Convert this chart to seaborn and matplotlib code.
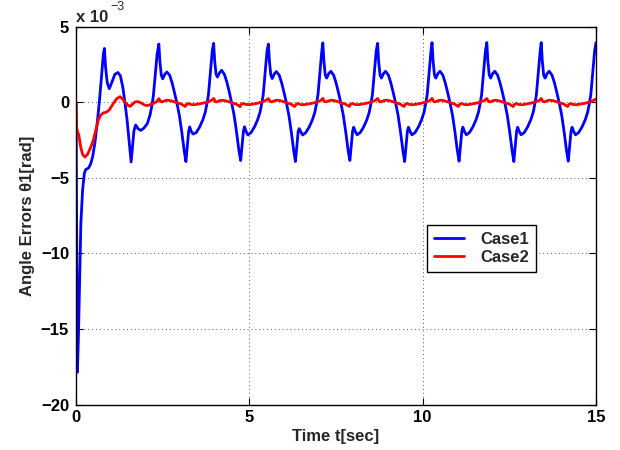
import matplotlib
matplotlib.use("Agg")
import matplotlib.pyplot as plt
import seaborn as sns

# ---------------------------------------------------------------
# Angle error theta1 (units of 1e-3 rad) vs time (sec)
# ---------------------------------------------------------------

# Case1: start-up transient and first cycle
t_case1_start = [0.00, 0.04, 0.07, 0.10, 0.14, 0.19, 0.24, 0.28, 0.36, 0.42,
                 0.48, 0.55, 0.62, 0.68, 0.74, 0.79, 0.82, 0.85, 0.90, 0.96,
                 1.03, 1.12, 1.21, 1.28, 1.35, 1.41, 1.47, 1.53, 1.59, 1.63,
                 1.67, 1.72, 1.79, 1.87, 1.96, 2.06, 2.14, 2.19, 2.23, 2.29,
                 2.34]
e_case1_start = [0.0, -17.85, -15.5, -12.4, -8.0, -5.8, -4.7, -4.45, -4.35, -4.1,
                 -3.6, -2.6, -1.2, 0.2, 1.8, 3.2, 3.56, 2.4, 1.3, 0.9,
                 1.3, 1.85, 1.97, 1.75, 1.0, 0.0, -1.1, -2.5, -3.95, -2.9,
                 -1.9, -1.5, -1.75, -1.86, -1.7, -1.4, -0.8, -0.2, 0.4, 1.9,
                 3.2]

# Case1: steady cycles
t_case1_cycles = [
    [2.39, 2.42, 2.46, 2.50, 2.56, 2.62, 2.70, 2.77, 2.84, 2.91, 2.98, 3.05, 3.12, 3.17,
     3.21, 3.25, 3.28, 3.33, 3.38, 3.47, 3.57, 3.66, 3.73, 3.78, 3.82, 3.88, 3.93],
    [3.97, 4.00, 4.04, 4.08, 4.14, 4.20, 4.28, 4.35, 4.42, 4.49, 4.56, 4.63, 4.70, 4.75,
     4.79, 4.83, 4.86, 4.91, 4.96, 5.05, 5.15, 5.24, 5.31, 5.36, 5.40, 5.46, 5.51],
    [5.55, 5.58, 5.62, 5.66, 5.72, 5.78, 5.86, 5.93, 6.00, 6.07, 6.14, 6.21, 6.28, 6.33,
     6.37, 6.41, 6.44, 6.49, 6.54, 6.63, 6.73, 6.82, 6.89, 6.94, 6.98, 7.04, 7.09],
    [7.12, 7.15, 7.19, 7.23, 7.29, 7.35, 7.43, 7.50, 7.57, 7.64, 7.71, 7.78, 7.85, 7.90,
     7.94, 7.98, 8.01, 8.06, 8.11, 8.20, 8.30, 8.39, 8.46, 8.51, 8.55, 8.61, 8.66],
    [8.70, 8.73, 8.77, 8.81, 8.87, 8.93, 9.01, 9.08, 9.15, 9.22, 9.29, 9.36, 9.43, 9.48,
     9.52, 9.56, 9.59, 9.64, 9.69, 9.78, 9.88, 9.97, 10.04, 10.09, 10.13, 10.19, 10.24],
    [10.27, 10.30, 10.34, 10.38, 10.44, 10.50, 10.58, 10.65, 10.72, 10.79, 10.86, 10.93, 11.00, 11.05,
     11.09, 11.13, 11.16, 11.21, 11.26, 11.35, 11.45, 11.54, 11.61, 11.66, 11.70, 11.76, 11.81],
    [11.85, 11.88, 11.92, 11.96, 12.02, 12.08, 12.16, 12.23, 12.30, 12.37, 12.44, 12.51, 12.58, 12.63,
     12.67, 12.71, 12.74, 12.79, 12.84, 12.93, 13.03, 13.12, 13.19, 13.24, 13.28, 13.34, 13.39],
    [13.42, 13.45, 13.49, 13.53, 13.59, 13.65, 13.73, 13.80, 13.87, 13.94, 14.01, 14.08, 14.15, 14.20,
     14.24, 14.28, 14.31, 14.36, 14.41, 14.50, 14.60, 14.69, 14.76, 14.81, 14.85, 14.91, 14.96],
    [15.00],
]
e_case1_cycles = [
    [3.85, 2.70, 1.80, 1.55, 1.85, 2.00, 1.80, 1.30, 0.65, -0.05, -0.85, -1.95, -3.20, -3.92,
     -2.90, -1.90, -1.63, -1.95, -2.10, -2.00, -1.62, -1.15, -0.65, -0.05, 0.50, 2.10, 3.40],
    [3.90, 2.75, 1.85, 1.67, 1.95, 2.12, 1.85, 1.35, 0.70, -0.05, -0.85, -1.95, -3.20, -3.85,
     -2.90, -1.90, -1.62, -1.95, -2.16, -2.00, -1.62, -1.15, -0.65, -0.05, 0.50, 2.10, 3.40],
    [3.85, 2.70, 1.80, 1.57, 1.88, 2.03, 1.80, 1.30, 0.65, -0.05, -0.85, -1.95, -3.20, -3.92,
     -2.90, -1.90, -1.74, -1.98, -2.16, -2.00, -1.62, -1.15, -0.65, -0.05, 0.50, 2.10, 3.40],
    [3.93, 2.75, 1.80, 1.60, 1.90, 2.05, 1.80, 1.30, 0.65, -0.05, -0.85, -1.95, -3.20, -3.85,
     -2.90, -1.90, -1.65, -1.95, -2.15, -2.00, -1.62, -1.15, -0.65, -0.05, 0.50, 2.10, 3.40],
    [3.90, 2.70, 1.80, 1.60, 1.90, 2.05, 1.80, 1.30, 0.65, -0.05, -0.85, -1.95, -3.20, -3.92,
     -2.90, -1.90, -1.65, -1.95, -2.15, -2.00, -1.62, -1.15, -0.65, -0.05, 0.50, 2.10, 3.40],
    [3.95, 2.75, 1.80, 1.60, 1.90, 2.05, 1.80, 1.30, 0.65, -0.05, -0.85, -1.95, -3.20, -3.90,
     -2.90, -1.90, -1.65, -1.95, -2.15, -2.00, -1.62, -1.15, -0.65, -0.05, 0.50, 2.10, 3.40],
    [3.95, 2.75, 1.80, 1.60, 1.90, 2.05, 1.80, 1.30, 0.65, -0.05, -0.85, -1.95, -3.20, -3.92,
     -2.90, -1.90, -1.65, -1.95, -2.15, -2.00, -1.62, -1.15, -0.65, -0.05, 0.50, 2.10, 3.40],
    [3.95, 2.75, 1.80, 1.60, 1.90, 2.05, 1.80, 1.30, 0.65, -0.05, -0.85, -1.95, -3.20, -3.90,
     -2.90, -1.90, -1.65, -1.95, -2.15, -2.00, -1.62, -1.15, -0.65, -0.05, 0.50, 2.10, 3.40],
    [3.95],
]

# Case2: start-up transient
t_case2_start = [0.00, 0.02, 0.05, 0.08, 0.13, 0.19, 0.26, 0.33, 0.42, 0.50,
                 0.57, 0.64, 0.71, 0.79, 0.88, 0.96, 1.03, 1.10, 1.18, 1.27,
                 1.35, 1.43, 1.50, 1.56, 1.62, 1.70, 1.78, 1.88, 1.98, 2.06,
                 2.15, 2.25, 2.33]
e_case2_start = [0.0, -1.7, -2.0, -2.15, -2.9, -3.45, -3.62, -3.45, -3.0, -2.5,
                 -1.85, -1.2, -0.85, -0.7, -0.65, -0.5, -0.25, 0.0, 0.25, 0.37,
                 0.2, -0.05, -0.2, -0.27, -0.15, 0.02, 0.05, -0.05, -0.18, -0.22,
                 -0.15, -0.05, 0.05]

# Case2: steady cycles
t_case2_cycles = [
    [2.39, 2.44, 2.49, 2.56, 2.64, 2.74, 2.84, 2.94, 3.04, 3.11, 3.15, 3.19, 3.24, 3.32, 3.42, 3.52, 3.64, 3.76, 3.86, 3.92],
    [3.97, 4.02, 4.07, 4.14, 4.22, 4.32, 4.42, 4.52, 4.62, 4.69, 4.73, 4.77, 4.82, 4.90, 5.00, 5.10, 5.22, 5.34, 5.44, 5.50],
    [5.55, 5.60, 5.65, 5.72, 5.80, 5.90, 6.00, 6.10, 6.20, 6.27, 6.31, 6.35, 6.40, 6.48, 6.58, 6.68, 6.80, 6.92, 7.02, 7.08],
    [7.12, 7.17, 7.22, 7.29, 7.37, 7.47, 7.57, 7.67, 7.77, 7.84, 7.88, 7.92, 7.97, 8.05, 8.15, 8.25, 8.37, 8.49, 8.59, 8.65],
    [8.70, 8.75, 8.80, 8.87, 8.95, 9.05, 9.15, 9.25, 9.35, 9.42, 9.46, 9.50, 9.55, 9.63, 9.73, 9.83, 9.95, 10.07, 10.17, 10.23],
    [10.27, 10.32, 10.37, 10.44, 10.52, 10.62, 10.72, 10.82, 10.92, 10.99, 11.03, 11.07, 11.12, 11.20, 11.30, 11.40, 11.52, 11.64, 11.74, 11.80],
    [11.85, 11.90, 11.95, 12.02, 12.10, 12.20, 12.30, 12.40, 12.50, 12.57, 12.61, 12.65, 12.70, 12.78, 12.88, 12.98, 13.10, 13.22, 13.32, 13.38],
    [13.42, 13.47, 13.52, 13.59, 13.67, 13.77, 13.87, 13.97, 14.07, 14.14, 14.18, 14.22, 14.27, 14.35, 14.45, 14.55, 14.67, 14.79, 14.89, 14.95],
    [15.00],
]
e_case2_cycles = [
    [0.24, 0.05, 0.03, 0.10, 0.14, 0.10, 0.03, -0.05, -0.12, -0.22, -0.28, -0.13, -0.08, -0.15, -0.16, -0.12, -0.07, 0.00, 0.08, 0.15],
    [0.25, 0.03, 0.03, 0.11, 0.13, 0.10, 0.03, -0.05, -0.12, -0.22, -0.29, -0.12, -0.08, -0.14, -0.16, -0.12, -0.07, 0.00, 0.08, 0.16],
    [0.24, 0.05, 0.03, 0.10, 0.14, 0.10, 0.03, -0.05, -0.12, -0.22, -0.28, -0.13, -0.08, -0.15, -0.16, -0.12, -0.07, 0.00, 0.08, 0.15],
    [0.26, 0.04, 0.03, 0.10, 0.14, 0.10, 0.03, -0.05, -0.12, -0.22, -0.27, -0.13, -0.08, -0.15, -0.16, -0.12, -0.07, 0.00, 0.08, 0.15],
    [0.25, 0.05, 0.03, 0.10, 0.14, 0.10, 0.03, -0.05, -0.12, -0.22, -0.28, -0.13, -0.08, -0.15, -0.16, -0.12, -0.07, 0.00, 0.08, 0.15],
    [0.26, 0.05, 0.03, 0.10, 0.14, 0.10, 0.03, -0.05, -0.12, -0.22, -0.28, -0.13, -0.08, -0.15, -0.16, -0.12, -0.07, 0.00, 0.08, 0.15],
    [0.25, 0.05, 0.03, 0.10, 0.14, 0.10, 0.03, -0.05, -0.12, -0.22, -0.28, -0.13, -0.08, -0.15, -0.16, -0.12, -0.07, 0.00, 0.08, 0.15],
    [0.25, 0.05, 0.03, 0.10, 0.14, 0.10, 0.03, -0.05, -0.12, -0.22, -0.28, -0.13, -0.08, -0.15, -0.16, -0.12, -0.07, 0.00, 0.08, 0.15],
    [0.22],
]

x_ticks = [0, 5, 10, 15]
y_ticks = [-20, -15, -10, -5, 0, 5]
series_names = ["Case1", "Case2"]
series_colors = ["#0000ff", "#ff0000"]


def join(first, rest):
    out = list(first)
    for block in rest:
        out.extend(block)
    return out


t1 = join(t_case1_start, t_case1_cycles)
e1 = join(e_case1_start, e_case1_cycles)
t2 = join(t_case2_start, t_case2_cycles)
e2 = join(e_case2_start, e_case2_cycles)

sns.set_theme(style="ticks")
plt.rcParams["font.family"] = ["Liberation Sans", "DejaVu Sans"]
plt.rcParams["font.weight"] = "bold"
plt.rcParams["axes.labelweight"] = "bold"

fig = plt.figure(figsize=(6.2, 4.5), dpi=100)
ax = fig.add_axes([0.1226, 0.1007, 0.8387, 0.8400])

for tt, ee, name, col in zip([t1, t2], [e1, e2], series_names, series_colors):
    sns.lineplot(x=tt, y=ee, ax=ax, color=col, linewidth=2.0, label=name,
                 estimator=None, sort=False)

ax.set_xlim(0, 15)
ax.set_ylim(-20, 5)
ax.set_xticks(x_ticks)
ax.set_yticks(y_ticks)
ax.grid(True, linestyle=(0, (1, 3)), color="0.35", linewidth=0.7)
ax.tick_params(direction="in", top=True, right=True, length=5, width=0.8,
               labelsize=12, colors="black")
ax.tick_params(axis="y", pad=5)
ax.tick_params(axis="x", pad=4)
for s in ax.spines.values():
    s.set_visible(True)
    s.set_color("black")
    s.set_linewidth(1.0)

ax.set_xlabel("Time t[sec]", fontsize=12, fontweight="bold", labelpad=3)
ax.set_ylabel("Angle Errors θ1[rad]", fontsize=12, fontweight="bold", labelpad=4)

# exponent marker for the y scale
ax.text(0.0, 1.012, "x 10", transform=ax.transAxes, fontsize=12,
        fontweight="bold", ha="left", va="baseline")
ax.text(0.066, 1.044, "−3", transform=ax.transAxes, fontsize=9,
        fontweight="normal", ha="left", va="baseline")

leg = ax.legend(loc="upper left", bbox_to_anchor=(0.675, 0.475), frameon=True,
                fancybox=False, framealpha=1, edgecolor="black", borderaxespad=0,
                handlelength=1.8, handletextpad=1.0, borderpad=0.4,
                labelspacing=0.2, prop={"size": 12, "weight": "bold"})
leg.get_frame().set_linewidth(1.0)

fig.savefig("out.png", dpi=100, facecolor="white")
